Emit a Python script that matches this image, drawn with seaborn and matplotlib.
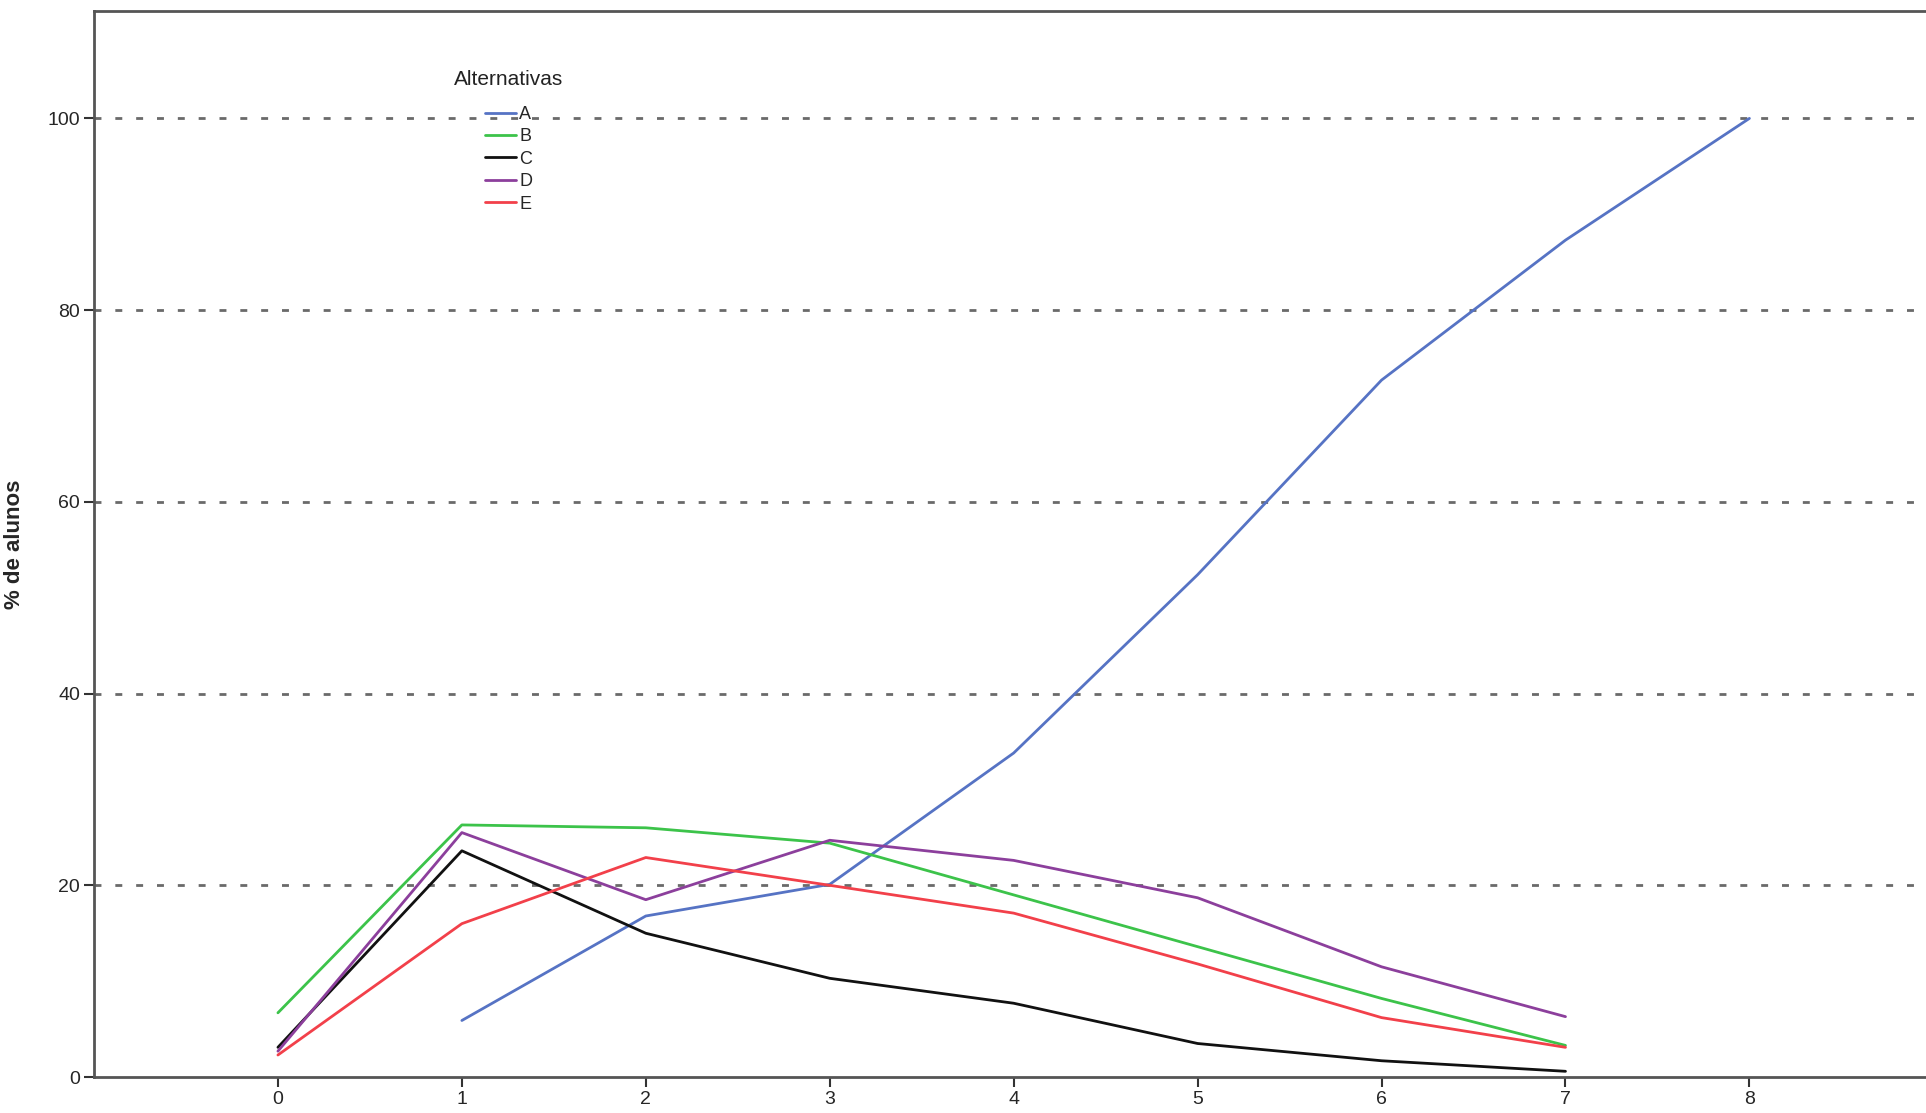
import matplotlib
matplotlib.use("Agg")
import matplotlib.pyplot as plt
import seaborn as sns
import pandas as pd
import numpy as np

# valores
x_vals = [0, 1, 2, 3, 4, 5, 6, 7, 8]
alt_a = [np.nan, 5.9, 16.8, 20.1, 33.8, 52.4, 72.7, 87.3, 100.0]
alt_b = [6.7, 26.3, 26.0, 24.4, 19.0, 13.6, 8.2, 3.3, np.nan]
alt_c = [3.1, 23.6, 15.0, 10.3, 7.7, 3.5, 1.7, 0.6, np.nan]
alt_d = [2.7, 25.5, 18.5, 24.7, 22.6, 18.7, 11.5, 6.3, np.nan]
alt_e = [2.3, 16.0, 22.9, 20.0, 17.1, 11.8, 6.2, 3.1, np.nan]

y_ticks = [0, 20, 40, 60, 80, 100]

series = {"A": alt_a, "B": alt_b, "C": alt_c, "D": alt_d, "E": alt_e}
df = pd.DataFrame(
    [(x, k, v) for k, vals in series.items() for x, v in zip(x_vals, vals)],
    columns=["x", "Alternativas", "pct"],
).dropna()

cores = {"A": "#5673c4", "B": "#3cc34a", "C": "#111111", "D": "#8c3f9c", "E": "#f2404a"}

sns.set_style("white")
plt.rcParams["font.family"] = ["Liberation Sans", "DejaVu Sans"]

fig = plt.figure(figsize=(19.26, 11.13), dpi=100)
ax = fig.add_axes([0.0488, 0.0323, 0.9512, 0.9578])

# linhas de grade pontilhadas
for yv in y_ticks[1:]:
    ax.axhline(yv, color="#6a6a6a", lw=2, ls=(0, (2.5, 5)), zorder=0)

sns.lineplot(data=df, x="x", y="pct", hue="Alternativas", palette=cores,
             linewidth=2, ax=ax, legend=True)

ax.set_xlim(-1, 8.96)
ax.set_ylim(0, 111.2)
ax.set_xticks(x_vals)
ax.set_yticks(y_ticks)
ax.tick_params(axis="both", direction="out", length=7, width=1.5, color="#333333",
               labelsize=14, pad=3, left=True, bottom=True)
ax.set_xlabel("")
ax.set_ylabel("% de alunos", fontsize=16, fontweight="bold")
ax.yaxis.set_label_coords(-0.0377, 0.5)

for side in ["left", "top", "bottom"]:
    ax.spines[side].set_visible(True)
    ax.spines[side].set_color("#555555")
    ax.spines[side].set_linewidth(2)
ax.spines["right"].set_visible(False)

# legenda: título à esquerda, entradas deslocadas
ax.text(0.1965, 0.936, "Alternativas", transform=ax.transAxes, fontsize=15,
        va="center", ha="left", color="#222222")
ax.legend(loc="upper left", bbox_to_anchor=(0.2134, 0.911),
          frameon=False, fontsize=13, handlelength=1.7,
          handletextpad=0.2, labelspacing=0.3, borderpad=0, borderaxespad=0)

fig.savefig("out.png", dpi=100)
